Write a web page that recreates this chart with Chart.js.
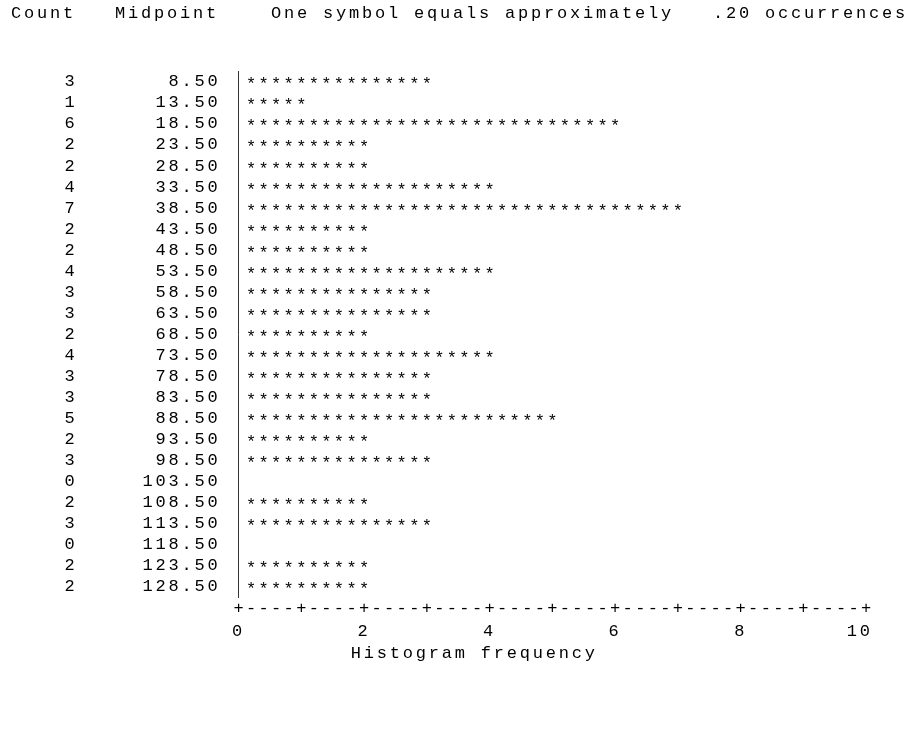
<!DOCTYPE html>
<html>
<head>
<meta charset="utf-8">
<script src="https://cdn.jsdelivr.net/npm/chart.js@4/dist/chart.umd.min.js"></script>
<style>
  html, body { margin: 0; padding: 0; background: #ffffff; }
  #wrap { position: relative; width: 909px; height: 729px; }
</style>
</head>
<body>
<div id="wrap"><canvas id="c" width="909" height="729"></canvas></div>
<script>
// ---- data ----
const midpoints = ['8.50','13.50','18.50','23.50','28.50','33.50','38.50','43.50','48.50','53.50',
  '58.50','63.50','68.50','73.50','78.50','83.50','88.50','93.50','98.50','103.50',
  '108.50','113.50','118.50','123.50','128.50'];
const counts = [3,1,6,2,2,4,7,2,2,4,3,3,2,4,3,3,5,2,3,0,2,3,0,2,2];
const countLabels = counts.map(String);
const headerText = 'Count   Midpoint    One symbol equals approximately   .20 occurrences';
const axisTitle = 'Histogram frequency';
const symbolValue = 0.20;   // one symbol equals approximately .20 occurrences

const FONT = 'Liberation Mono';
const FSIZE = 17;
const SPACING = '2.8px';
const INK = '#000000';

Chart.defaults.color = INK;
Chart.defaults.font.family = FONT;
Chart.defaults.font.size = FSIZE;

const textPlugin = {
  id: 'textHistogram',
  beforeLayout(chart) { chart.ctx.letterSpacing = SPACING; },
  beforeDraw(chart) { chart.ctx.letterSpacing = SPACING; },
  afterDatasetsDraw(chart) {
    const ctx = chart.ctx;
    const xs = chart.scales.x;
    const meta = chart.getDatasetMeta(0);
    ctx.save();
    ctx.letterSpacing = '0px';
    ctx.font = FSIZE + 'px "' + FONT + '"';
    ctx.fillStyle = INK;
    ctx.textAlign = 'center';
    ctx.textBaseline = 'alphabetic';
    const m = ctx.measureText('*');
    const shift = (m.actualBoundingBoxAscent - m.actualBoundingBoxDescent) / 2;
    meta.data.forEach((bar, i) => {
      const v = chart.data.datasets[0].data[i];
      const n = Math.round(v / symbolValue);
      for (let k = 1; k <= n; k++) {
        const px = xs.getPixelForValue(k * symbolValue);
        ctx.fillText('*', px, bar.y + shift - 1.5);
      }
    });
    ctx.restore();
  },
  afterDraw(chart) {
    const ctx = chart.ctx;
    const xs = chart.scales.x;
    const area = chart.chartArea;
    ctx.save();
    ctx.font = FSIZE + 'px "' + FONT + '"';
    ctx.fillStyle = INK;
    // "+----+----+" axis line
    ctx.letterSpacing = '0px';
    ctx.textAlign = 'center';
    ctx.textBaseline = 'middle';
    const steps = Math.round((xs.max - xs.min) / symbolValue);
    for (let j = 0; j <= steps; j++) {
      const val = xs.min + j * symbolValue;
      const ch = (j % 5 === 0) ? '+' : '-';
      ctx.fillText(ch, xs.getPixelForValue(val), area.bottom + 10.5);
    }
    // header line
    ctx.letterSpacing = SPACING;
    ctx.textAlign = 'left';
    ctx.fillText(headerText, 11, 13);
    ctx.restore();
  }
};

new Chart(document.getElementById('c'), {
  type: 'bar',
  data: {
    labels: midpoints,
    datasets: [{
      data: counts,
      backgroundColor: 'rgba(0,0,0,0)',
      borderWidth: 0,
      xAxisID: 'x',
      yAxisID: 'y'
    }]
  },
  options: {
    indexAxis: 'y',
    responsive: false,
    animation: false,
    events: [],
    layout: { padding: { top: 50, left: 11, right: 20.5, bottom: 0 } },
    plugins: { legend: { display: false }, tooltip: { enabled: false } },
    scales: {
      x: {
        type: 'linear',
        position: 'bottom',
        min: 0,
        max: 10,
        grid: { display: false, drawTicks: false },
        border: { display: false },
        ticks: {
          stepSize: 2,
          padding: 23.3,
          color: INK,
          font: { family: FONT, size: FSIZE },
          maxRotation: 0,
          autoSkip: false,
          callback: (v) => (v === 10 ? '10 ' : String(v))
        },
        title: {
          display: true,
          text: axisTitle + '            ',
          color: INK,
          font: { family: FONT, size: FSIZE },
          padding: { top: 0, bottom: 65.8 }
        },
        afterFit: (s) => { s.height = 131.5; }
      },
      y: {
        type: 'category',
        position: 'left',
        weight: 0,
        offset: true,
        grid: { display: false, drawTicks: false },
        border: { display: true, color: '#333333', width: 1 },
        ticks: {
          padding: 18.1,
          color: INK,
          autoSkip: false,
          font: { family: FONT, size: FSIZE }
        },
        afterFit: (s) => { s.width = 100; }
      },
      yCount: {
        type: 'category',
        position: 'left',
        weight: 1,
        offset: true,
        labels: countLabels,
        grid: { display: false, drawTicks: false },
        border: { display: false },
        ticks: {
          padding: 61.1,
          color: INK,
          autoSkip: false,
          font: { family: FONT, size: FSIZE }
        },
        afterFit: (s) => { s.width = 127.5; }
      }
    }
  },
  plugins: [textPlugin]
});
</script>
</body>
</html>
